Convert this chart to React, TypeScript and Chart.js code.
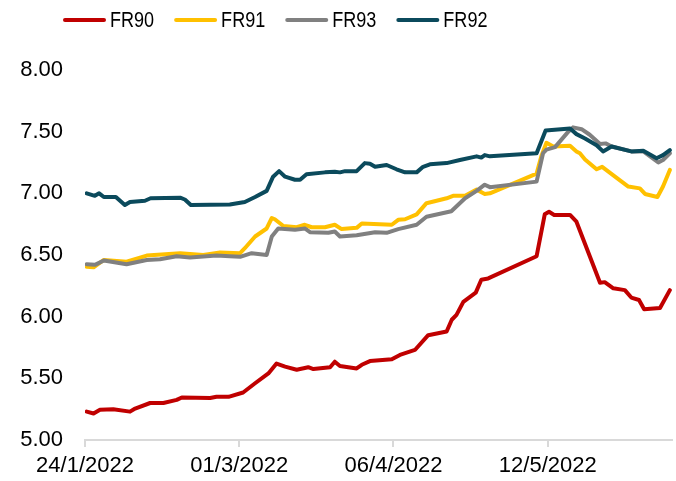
import React, { useEffect, useRef } from "react";
import { Chart, registerables } from "chart.js";

Chart.register(...registerables);

// Series names / colours (legend order)
const seriesNames = ["FR90", "FR91", "FR93", "FR92"];
const seriesColors = ["#c00000", "#ffc000", "#808080", "#0b4a5c"];

// x axis: days since 24/1/2022
const dayMax = 137;
const tickDays = [0, 36, 72, 108];
const tickLabels = ["24/1/2022", "01/3/2022", "06/4/2022", "12/5/2022"];

// y axis
const yMin = 5;
const yMax = 8;
const yStep = 0.5;

const fr90Days = [0.4, 2, 3.5, 6.6, 10.5, 11.7, 15.2, 18.3, 21.4, 22.6, 29.2, 30.7, 33.5, 36.9, 39.7, 42.8, 44.7, 46.7, 49.4, 52.1, 53.3, 57.2, 58.3, 59.5, 63.4, 64.6, 66.5, 71.6, 73.5, 77, 80.1, 84.4, 85.6, 86.7, 88.3, 91.2, 92.5, 94.1, 105.4, 107.3, 108.3, 109.5, 113.2, 114.7, 120.2, 121.3, 123.3, 126, 127.5, 129.3, 130.5, 134.2, 136.5];
const fr90Values = [5.23, 5.215, 5.245, 5.25, 5.23, 5.255, 5.3, 5.3, 5.325, 5.345, 5.34, 5.35, 5.35, 5.385, 5.46, 5.54, 5.62, 5.595, 5.57, 5.59, 5.575, 5.59, 5.635, 5.6, 5.58, 5.61, 5.64, 5.655, 5.69, 5.73, 5.85, 5.88, 5.975, 6.015, 6.12, 6.195, 6.3, 6.31, 6.49, 6.83, 6.85, 6.825, 6.825, 6.77, 6.275, 6.28, 6.23, 6.215, 6.155, 6.135, 6.06, 6.07, 6.215];

const fr91Days = [0.4, 2, 4.4, 9.7, 14.4, 22.2, 27.6, 31.5, 36.2, 37.3, 39.7, 42.4, 43.6, 44.3, 46.3, 49.4, 51.3, 52.9, 56, 58.3, 59.9, 63.4, 64.6, 71.6, 73.1, 74.7, 77.4, 79.7, 84.4, 85.9, 88.7, 91.4, 93.3, 94.5, 105.4, 106.5, 107.7, 109.3, 113.2, 114.7, 115.5, 116.7, 119.4, 120.7, 123.7, 126.8, 129.5, 130.7, 133.6, 134.9, 136.5];
const fr91Values = [6.405, 6.4, 6.46, 6.445, 6.495, 6.515, 6.5, 6.52, 6.515, 6.555, 6.65, 6.715, 6.8, 6.79, 6.735, 6.725, 6.745, 6.725, 6.725, 6.745, 6.71, 6.72, 6.755, 6.745, 6.785, 6.79, 6.83, 6.92, 6.96, 6.98, 6.98, 7.03, 6.995, 7.0, 7.16, 7.3, 7.41, 7.38, 7.385, 7.34, 7.325, 7.275, 7.195, 7.215, 7.135, 7.055, 7.04, 6.995, 6.97, 7.055, 7.19];

const fr93Days = [0.4, 2.3, 4.4, 9.7, 14.4, 17.5, 21.4, 24.5, 30.7, 33.8, 36.2, 38.9, 42.4, 43.6, 45.1, 49, 51.3, 52.5, 56.8, 58.3, 59.5, 63.4, 67.7, 70.4, 73.1, 77.4, 79.7, 85.5, 88.7, 91.4, 93.3, 94.5, 105.4, 106.9, 107.7, 109.7, 112.8, 113.9, 115.9, 117.8, 120.2, 121.5, 122.9, 127.5, 130.3, 133.8, 134.9, 136.5];
const fr93Values = [6.425, 6.42, 6.455, 6.425, 6.46, 6.465, 6.49, 6.48, 6.495, 6.49, 6.485, 6.515, 6.5, 6.65, 6.715, 6.705, 6.715, 6.685, 6.68, 6.69, 6.65, 6.66, 6.685, 6.68, 6.71, 6.745, 6.81, 6.855, 6.96, 7.02, 7.07, 7.05, 7.095, 7.325, 7.355, 7.375, 7.5, 7.535, 7.52, 7.475, 7.4, 7.405, 7.38, 7.34, 7.34, 7.25, 7.27, 7.325];

const fr92Days = [0.4, 2.3, 3.3, 4.4, 7.2, 9.3, 10.5, 14, 15.3, 22.2, 23.3, 24.7, 33.8, 37.3, 39.7, 42.4, 43.9, 45.3, 46.7, 49, 50.2, 51.7, 56, 58.3, 59.5, 60.7, 63.4, 65.3, 66.5, 67.7, 70.4, 72.7, 74.7, 77.4, 78.9, 80.5, 84.4, 87.5, 91.4, 92.5, 93.3, 94.5, 105.4, 107.5, 113.2, 114.7, 116.7, 119.4, 120.9, 122.9, 127.5, 130.3, 133.4, 134.9, 136.5];
const fr92Values = [7.0, 6.98, 7.0, 6.97, 6.97, 6.905, 6.93, 6.94, 6.96, 6.965, 6.95, 6.905, 6.91, 6.93, 6.97, 7.02, 7.135, 7.18, 7.135, 7.11, 7.11, 7.155, 7.17, 7.175, 7.17, 7.18, 7.18, 7.245, 7.24, 7.215, 7.23, 7.195, 7.17, 7.17, 7.215, 7.235, 7.245, 7.27, 7.3, 7.29, 7.31, 7.3, 7.325, 7.51, 7.525, 7.48, 7.445, 7.39, 7.34, 7.38, 7.34, 7.345, 7.285, 7.31, 7.35];

const seriesDays = [fr90Days, fr91Days, fr93Days, fr92Days];
const seriesValues = [fr90Values, fr91Values, fr93Values, fr92Values];

const FONT = "'Liberation Sans', Arial, sans-serif";

const legendPlugin = {
  id: "topLegend",
  afterDraw(chart: any) {
    const ctx = chart.ctx;
    ctx.save();
    ctx.font = "22px 'Liberation Sans', Arial, sans-serif";
    ctx.textBaseline = "middle";
    ctx.textAlign = "left";
    const squeeze = 0.82;
    let x = 64;
    const y = 20;
    chart.data.datasets.forEach((ds: any) => {
      ctx.strokeStyle = ds.borderColor;
      ctx.lineWidth = 4;
      ctx.lineCap = "round";
      ctx.beginPath();
      ctx.moveTo(x + 1, y);
      ctx.lineTo(x + 40, y);
      ctx.stroke();
      ctx.fillStyle = "#000";
      const tx = x + 46;
      ctx.save();
      ctx.translate(tx, y + 1);
      ctx.scale(squeeze, 1);
      ctx.fillText(ds.label, 0, 0);
      ctx.restore();
      const tw = ctx.measureText(ds.label).width * squeeze;
      x += 46 + tw + 21;
    });
    ctx.restore();
  },
};

export default function App() {
  const ref = useRef<HTMLCanvasElement | null>(null);

  useEffect(() => {
    if (!ref.current) return;
    const datasets = seriesNames.map((name, i) => ({
      label: name,
      data: seriesDays[i].map((d, j) => ({ x: d, y: seriesValues[i][j] })),
      borderColor: seriesColors[i],
      backgroundColor: seriesColors[i],
      borderWidth: 4,
      pointRadius: 0,
      tension: 0,
      borderJoinStyle: "round" as const,
      borderCapStyle: "round" as const,
      order: seriesNames.length - i,
    }));

    const chart = new Chart(ref.current, {
      type: "line",
      data: { datasets },
      plugins: [legendPlugin],
      options: {
        animation: false,
        responsive: false,
        devicePixelRatio: 1,
        layout: { padding: { top: 70, right: 4, left: 0, bottom: 0 } },
        plugins: {
          legend: { display: false },
          tooltip: { enabled: false },
        },
        scales: {
          x: {
            type: "linear",
            min: 0,
            max: dayMax,
            afterBuildTicks: (s: any) => {
              s.ticks = tickDays.map((v) => ({ value: v }));
            },
            afterFit: (s: any) => {
              s.height = 41;
            },
            ticks: {
              autoSkip: false,
              maxRotation: 0,
              minRotation: 0,
              padding: 6,
              color: "#000",
              font: { size: 22, family: FONT },
              callback: (_v: any, idx: number) => tickLabels[idx],
            },
            grid: {
              display: true,
              drawOnChartArea: false,
              drawTicks: true,
              tickLength: 7,
              color: "#d9d9d9",
              lineWidth: 2,
            },
            border: { display: true, color: "#d9d9d9", width: 2 },
          },
          y: {
            type: "linear",
            min: yMin,
            max: yMax,
            afterFit: (s: any) => {
              s.width = 85;
            },
            ticks: {
              stepSize: yStep,
              padding: 22,
              color: "#000",
              font: { size: 22, family: FONT },
              callback: (v: any) => Number(v).toFixed(2),
            },
            grid: { display: false, drawTicks: false },
            border: { display: false },
          },
        },
      },
    });
    return () => chart.destroy();
  }, []);

  return (
    <div style={{ position: "fixed", left: 0, top: 0, width: 676, height: 481, background: "#fff" }}>
      <canvas ref={ref} width={676} height={481} style={{ display: "block" }} />
    </div>
  );
}
